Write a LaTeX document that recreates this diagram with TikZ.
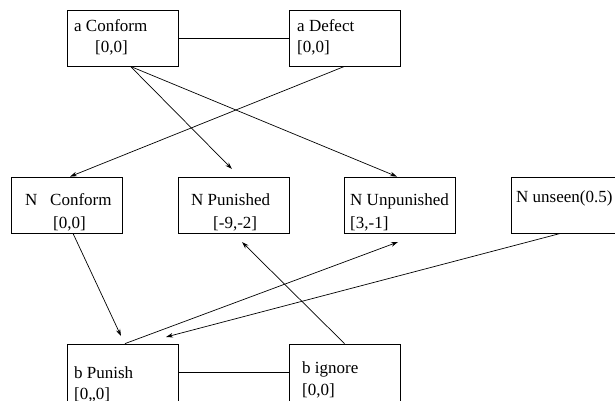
\documentclass[tikz,border=0pt]{standalone}
\usepackage{fontspec}
\setmainfont{Liberation Serif}
\usetikzlibrary{arrows.meta,calc}
\tikzset{
  box/.style={draw,line width=0.8pt,rectangle,minimum width=111pt,minimum height=56pt,inner sep=0pt},
  lbl/.style={anchor=base west,inner sep=0pt,font=\fontsize{17}{20}\selectfont},
  conn/.style={line width=0.7pt},
  arr/.style={line width=0.7pt,-{Stealth[length=7pt,width=4.5pt]}}
}
\begin{document}
\begin{tikzpicture}[x=1pt,y=-1pt]
\useasboundingbox (0,0) rectangle (615,400);
% boxes
\node[box] (aC) at (122.5,38) {};
\node[box] (aD) at (344.5,38) {};
\node[box] (NC) at (67,205) {};
\node[box] (NP) at (233.5,205) {};
\node[box] (NU) at (400,205) {};
\node[box,minimum width=107pt] (NS) at (564.5,205) {};
\node[box,minimum height=68pt] (bP) at (122.5,378) {};
\node[box,minimum height=68pt] (bI) at (344.5,378) {};
% texts
\node[lbl] (taC1) at (74,31) {a Conform};
\node[lbl] (taC2) at (95,52) {[0,0]};
\node[lbl] (taD1) at (297,31) {a Defect};
\node[lbl] (taD2) at (297,52) {[0,0]};
\node[lbl] (tNC1) at (25,205) {N~~~Conform};
\node[lbl] (tNC2) at (53,228) {[0,0]};
\node[lbl] (tNP1) at (191,205) {N Punished};
\node[lbl] (tNP2) at (213,228) {[-9,-2]};
\node[lbl] (tNU1) at (350,205) {N Unpunished};
\node[lbl] (tNU2) at (350,228) {[3,-1]};
\node[lbl] (tNS1) at (516,202) {N unseen(0.5)};
\node[lbl] (tbP1) at (74,378) {b Punish};
\node[lbl] (tbP2) at (74,399) {[0,,0]};
\node[lbl] (tbI1) at (302,373) {b ignore};
\node[lbl] (tbI2) at (302,395) {[0,0]};
% free ends
\coordinate (t1) at (232,169);
\coordinate (t4) at (121,336);
\coordinate (t5) at (398,242);
\coordinate (t6) at (166,337);
\coordinate (t7) at (242,242);
% plain links
\draw[conn] (aC.east) -- (aD.west);
\draw[conn] (bP.east |- 0,372) -- (bI.west |- 0,372);
% arrows
\draw[arr] ($(aC.south)+(8,0)$) -- (t1);
\draw[arr] ($(aC.south)+(8,0)$) -- ($(NU.north)+(-3,0)$);
\draw[arr] (aD.south) -- ($(NC.north)+(3,0)$);
\draw[arr] ($(NC.south)+(6,0)$) -- (t4);
\draw[arr] ($(bP.north)+(2.5,0)$) -- (t5);
\draw[arr] ($(NS.south)+(-4,0)$) -- (t6);
\draw[arr] (bI.north) -- (t7);
\end{tikzpicture}
\end{document}
